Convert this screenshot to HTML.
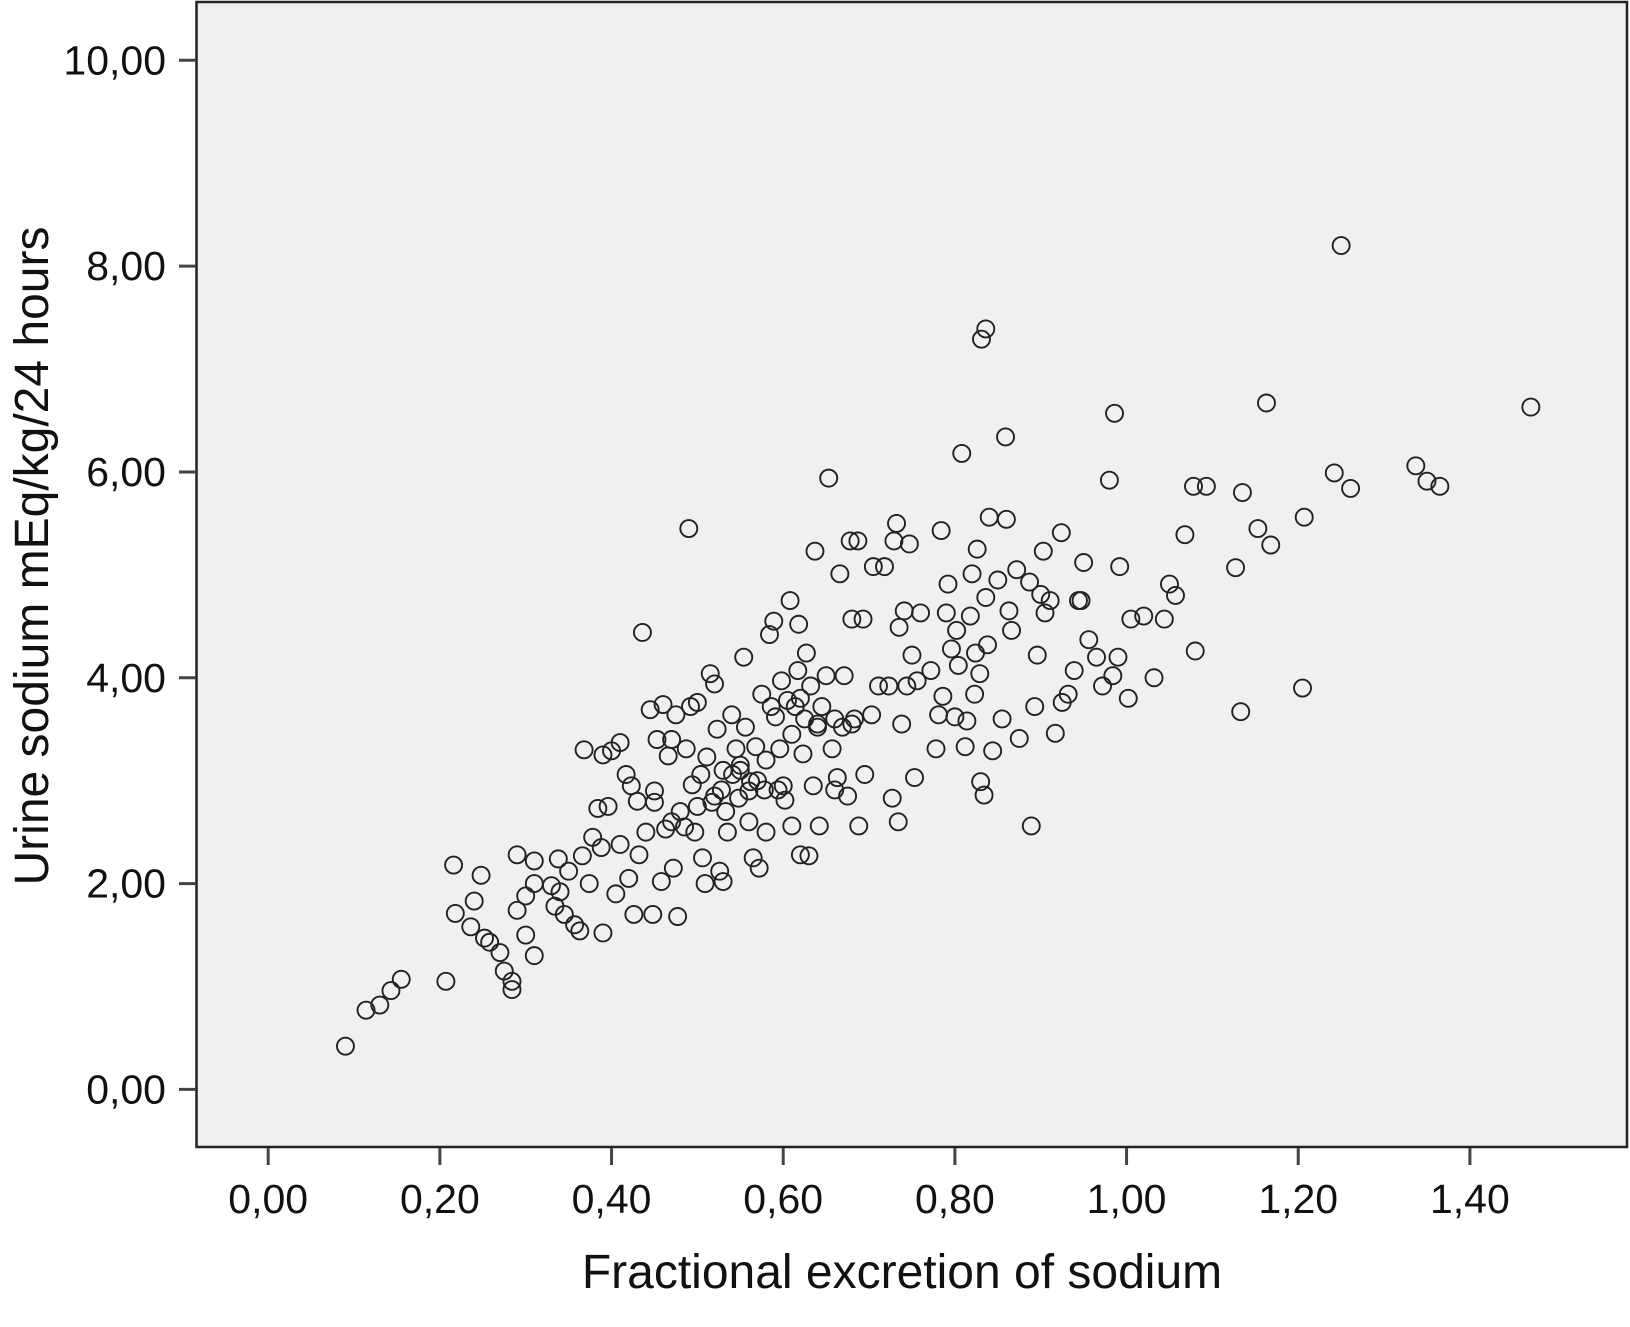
<!DOCTYPE html>
<html><head><meta charset="utf-8"><style>
html,body{margin:0;padding:0;background:#fff;}
svg{display:block;font-family:"Liberation Sans",Arial,sans-serif;}
</style></head><body>
<svg id="chart" width="1630" height="1327" viewBox="0 0 1630 1327">
<rect x="196.5" y="2" width="1430.5" height="1145" fill="#f0f0f0" stroke="#222" stroke-width="2.5"/>
<g id="ticks"></g>
<g id="points"></g>
<text x="902" y="1288" font-size="48" text-anchor="middle" fill="#111">Fractional excretion of sodium</text>
<text transform="translate(48,556) rotate(-90)" font-size="48" text-anchor="middle" fill="#111">Urine sodium mEq/kg/24 hours</text>
</svg>
<script>
const xTicks=[0,0.2,0.4,0.6,0.8,1.0,1.2,1.4];
const xTickLabels=["0,00","0,20","0,40","0,60","0,80","1,00","1,20","1,40"];
const yTicks=[0,2,4,6,8,10];
const yTickLabels=["0,00","2,00","4,00","6,00","8,00","10,00"];
const feNa=[0.09,0.114,0.13,0.143,0.155,0.207,0.216,0.218,0.236,0.24,0.248,0.252,0.258,0.27,0.275,0.284,0.284,0.29,0.29,0.3,0.3,0.31,0.31,0.31,0.33,0.334,0.338,0.34,0.345,0.35,0.357,0.363,0.366,0.368,0.374,0.378,0.384,0.388,0.39,0.39,0.396,0.4,0.405,0.41,0.41,0.417,0.42,0.423,0.426,0.43,0.432,0.436,0.44,0.445,0.448,0.45,0.453,0.458,0.46,0.463,0.466,0.47,0.472,0.475,0.477,0.48,0.485,0.487,0.49,0.492,0.494,0.497,0.5,0.504,0.506,0.509,0.511,0.515,0.517,0.52,0.523,0.526,0.528,0.53,0.533,0.535,0.54,0.541,0.545,0.548,0.55,0.554,0.556,0.56,0.562,0.565,0.568,0.572,0.575,0.578,0.58,0.584,0.586,0.589,0.591,0.594,0.596,0.598,0.602,0.605,0.608,0.61,0.614,0.617,0.618,0.62,0.623,0.625,0.627,0.63,0.632,0.635,0.637,0.64,0.642,0.645,0.65,0.653,0.657,0.66,0.663,0.666,0.669,0.671,0.675,0.678,0.68,0.683,0.687,0.688,0.693,0.695,0.703,0.705,0.711,0.718,0.723,0.727,0.729,0.732,0.734,0.735,0.738,0.741,0.744,0.747,0.75,0.753,0.756,0.76,0.772,0.778,0.781,0.784,0.786,0.79,0.792,0.796,0.8,0.802,0.804,0.808,0.812,0.814,0.818,0.82,0.823,0.824,0.826,0.829,0.83,0.831,0.834,0.836,0.836,0.838,0.84,0.844,0.85,0.855,0.859,0.86,0.863,0.866,0.872,0.875,0.887,0.889,0.893,0.896,0.9,0.903,0.905,0.911,0.917,0.924,0.925,0.932,0.939,0.944,0.947,0.95,0.956,0.965,0.972,0.98,0.984,0.986,0.99,0.992,1.002,1.005,1.02,1.032,1.044,1.05,1.057,1.068,1.08,1.078,1.093,1.127,1.133,1.135,1.153,1.163,1.168,1.205,1.207,1.242,1.25,1.261,1.337,1.35,1.365,1.471,
0.52,0.55,0.57,0.6,0.62,0.64,0.5,0.47,0.45,0.58,0.61,0.66,0.68,0.53,0.56];
const urineNa=[0.42,0.77,0.82,0.96,1.07,1.05,2.18,1.71,1.58,1.83,2.08,1.47,1.43,1.33,1.15,1.05,0.97,2.28,1.74,1.88,1.5,1.3,2.22,2.0,1.98,1.78,2.24,1.92,1.7,2.12,1.6,1.54,2.27,3.3,2.0,2.45,2.73,2.35,3.25,1.52,2.75,3.29,1.9,3.37,2.38,3.06,2.05,2.95,1.7,2.8,2.28,4.44,2.5,3.69,1.7,2.79,3.4,2.02,3.74,2.53,3.24,3.4,2.15,3.64,1.68,2.7,2.55,3.31,5.45,3.72,2.96,2.5,3.76,3.06,2.25,2.0,3.23,4.04,2.79,3.94,3.5,2.12,2.91,2.02,2.7,2.5,3.64,3.06,3.31,2.83,3.1,4.2,3.52,2.6,2.99,2.25,3.33,2.15,3.84,2.91,2.5,4.42,3.72,4.55,3.62,2.91,3.31,3.97,2.81,3.78,4.75,2.56,3.72,4.07,4.52,2.28,3.26,3.6,4.24,2.27,3.92,2.95,5.23,3.52,2.56,3.72,4.02,5.94,3.31,2.91,3.03,5.01,3.52,4.02,2.85,5.33,4.57,3.6,5.33,2.56,4.57,3.06,3.64,5.08,3.92,5.08,3.92,2.83,5.33,5.5,2.6,4.49,3.55,4.65,3.92,5.3,4.22,3.03,3.97,4.63,4.07,3.31,3.64,5.43,3.82,4.63,4.91,4.28,3.62,4.46,4.12,6.18,3.33,3.58,4.6,5.01,3.84,4.24,5.25,4.04,2.99,7.29,2.86,7.39,4.78,4.32,5.56,3.29,4.95,3.6,6.34,5.54,4.65,4.46,5.05,3.41,4.93,2.56,3.72,4.22,4.81,5.23,4.63,4.75,3.46,5.41,3.76,3.84,4.07,4.75,4.75,5.12,4.37,4.2,3.92,5.92,4.02,6.57,4.2,5.08,3.8,4.57,4.6,4.0,4.57,4.91,4.8,5.39,4.26,5.86,5.86,5.07,3.67,5.8,5.45,6.67,5.29,3.9,5.56,5.99,8.2,5.84,6.06,5.91,5.86,6.63,
2.85,3.15,3.0,2.95,3.8,3.55,2.75,2.6,2.9,3.2,3.45,3.6,3.55,3.1,2.9];

const X=v=>268.2+v*(1469.9-268.2)/1.4;
const Y=v=>1089.4-v*(1089.4-60.3)/10;
const NS="http://www.w3.org/2000/svg";
const tg=document.getElementById('ticks');
xTicks.forEach((t,i)=>{
  const l=document.createElementNS(NS,'line');
  l.setAttribute('x1',X(t));l.setAttribute('x2',X(t));l.setAttribute('y1',1148);l.setAttribute('y2',1165);
  l.setAttribute('stroke','#444');l.setAttribute('stroke-width','3');
  
  
  tg.appendChild(l);
  const tx=document.createElementNS(NS,'text');
  tx.setAttribute('x',X(t));tx.setAttribute('y',1213);tx.setAttribute('font-size','41');
  tx.setAttribute('text-anchor','middle');tx.setAttribute('fill','#111');
  tx.textContent=xTickLabels[i];
  
  
  tg.appendChild(tx);
});
yTicks.forEach((t,i)=>{
  const l=document.createElementNS(NS,'line');
  l.setAttribute('x1',179);l.setAttribute('x2',196);l.setAttribute('y1',Y(t));l.setAttribute('y2',Y(t));
  l.setAttribute('stroke','#444');l.setAttribute('stroke-width','3');
  
  
  tg.appendChild(l);
  const tx=document.createElementNS(NS,'text');
  tx.setAttribute('x',166);tx.setAttribute('y',Y(t)+14);tx.setAttribute('font-size','41');
  tx.setAttribute('text-anchor','end');tx.setAttribute('fill','#111');
  tx.textContent=yTickLabels[i];
  
  
  tg.appendChild(tx);
});
const pg=document.getElementById('points');
feNa.forEach((v,i)=>{
  const c=document.createElementNS(NS,'circle');
  c.setAttribute('cx',X(v));c.setAttribute('cy',Y(urineNa[i]));c.setAttribute('r',8.5);
  c.setAttribute('fill','none');c.setAttribute('stroke','#222');c.setAttribute('stroke-width','1.9');
  
  
  pg.appendChild(c);
});
</script>
</body></html>
